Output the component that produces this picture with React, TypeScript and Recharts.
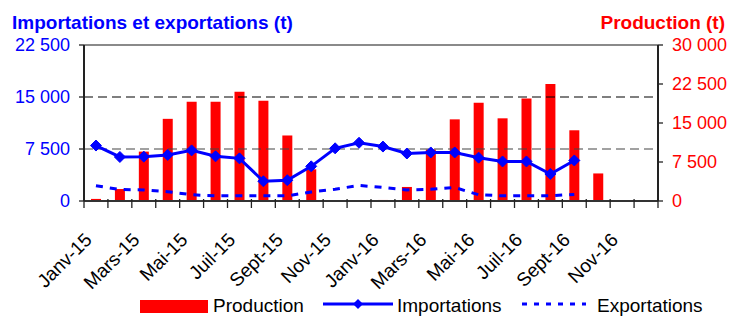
import React from 'react';
import { ComposedChart, Bar, Line, XAxis, YAxis, ReferenceLine, Legend } from 'recharts';

const months = [
  'Janv-15', 'Févr-15', 'Mars-15', 'Avr-15', 'Mai-15', 'Juin-15', 'Juil-15', 'Août-15',
  'Sept-15', 'Oct-15', 'Nov-15', 'Déc-15', 'Janv-16', 'Févr-16', 'Mars-16', 'Avr-16',
  'Mai-16', 'Juin-16', 'Juil-16', 'Août-16', 'Sept-16', 'Oct-16', 'Nov-16', 'Déc-16',
];
const production = [
  400, 2300, 9500, 15800, 19100, 19100, 21000, 19300, 12600, 6100, 100, 0,
  200, 2700, 9900, 15700, 18900, 15900, 19700, 22500, 13600, 5300, 100, 0,
];
const importations = [
  8000, 6350, 6400, 6650, 7300, 6450, 6150, 2850, 3000, 5000, 7600, 8400,
  7850, 6850, 7000, 7000, 6250, 5700, 5700, 3900, 5850, null, null, null,
];
const exportations = [
  2200, 1650, 1600, 1350, 900, 750, 750, 750, 750, 1300, 1700, 2250,
  1950, 1600, 1700, 1950, 900, 750, 750, 750, 950, null, null, null,
];
const leftTicks = [0, 7500, 15000, 22500];
const rightTicks = [0, 7500, 15000, 22500, 30000];

const data = months.map((m, i) => ({
  month: m,
  production: production[i],
  importations: importations[i],
  exportations: exportations[i],
}));

const W = 730;
const H = 316;
const LEFT_W = 84;
const RIGHT_W = 72;
const TOP = 45;
const XAXIS_H = 95;
const LEGEND_H = 20;
const HALF_BAND = (W - LEFT_W - RIGHT_W) / months.length / 2;

const FONT = '"Liberation Sans", Arial, Helvetica, sans-serif';
const BLUE = '#0000FF';
const RED = '#FF0000';

const fmt = (v: number) => String(v).replace(/\B(?=(\d{3})+(?!\d))/g, ' ');

const XTick = (props: any) => {
  const { x, y, payload, index } = props;
  const isLast = index === months.length - 1;
  const ax = x - 3;
  const ay = y + 40;
  return (
    <g>
      <line x1={x - HALF_BAND} x2={x - HALF_BAND} y1={y - 2} y2={y + 7} stroke="#222" strokeWidth={1.3} />
      {isLast && (
        <line x1={x + HALF_BAND} x2={x + HALF_BAND} y1={y - 2} y2={y + 7} stroke="#222" strokeWidth={1.3} />
      )}
      {index % 2 === 0 && (
        <text
          x={ax}
          y={ay}
          transform={`rotate(-45 ${ax} ${ay})`}
          textAnchor="end"
          fontSize={19}
          fontFamily={FONT}
          fill="#000"
        >
          {payload.value}
        </text>
      )}
    </g>
  );
};

const Diamond = (props: any) => {
  const { cx, cy, value } = props;
  if (cx == null || cy == null || value == null) return null;
  const r = 5.5;
  return (
    <polygon
      points={`${cx},${cy - r} ${cx + r},${cy} ${cx},${cy + r} ${cx - r},${cy}`}
      fill={BLUE}
      stroke={BLUE}
    />
  );
};

const LegendContent = () => (
  <svg width={W} height={LEGEND_H} style={{ display: 'block', overflow: 'visible' }}>
    <rect x={140} y={4} width={68} height={13} fill={RED} />
    <text x={213} y={16} fontSize={19} fontFamily={FONT} fill="#000">Production</text>
    <line x1={323} x2={393} y1={8} y2={8} stroke={BLUE} strokeWidth={3} />
    <polygon points="358,3 363,8 358,13 353,8" fill={BLUE} />
    <text x={397} y={16} fontSize={19} fontFamily={FONT} fill="#000">Importations</text>
    <line x1={522} x2={586} y1={8} y2={8} stroke={BLUE} strokeWidth={3} strokeDasharray="5 7" />
    <text x={597} y={16} fontSize={19} fontFamily={FONT} fill="#000">Exportations</text>
  </svg>
);

export default function App() {
  return (
    <div style={{ position: 'absolute', left: 0, top: 0, width: W, height: H, background: '#fff' }}>
      <ComposedChart
        width={W}
        height={H}
        data={data}
        margin={{ top: TOP, right: 0, bottom: 0, left: 0 }}
      >
        <XAxis
          dataKey="month"
          interval={0}
          height={XAXIS_H}
          tickSize={0}
          tickMargin={0}
          tickLine={false}
          axisLine={{ stroke: '#333', strokeWidth: 2 }}
          tick={(p: any) => <XTick {...p} />}
        />
        <YAxis
          yAxisId="left"
          orientation="left"
          width={LEFT_W}
          domain={[0, 22500]}
          ticks={leftTicks}
          interval={0}
          tickFormatter={fmt}
          tickSize={5}
          tickMargin={9}
          axisLine={{ stroke: '#222', strokeWidth: 2 }}
          tickLine={{ stroke: '#222', strokeWidth: 1.3 }}
          tick={{ fill: BLUE, fontSize: 18, fontFamily: FONT }}
        />
        <YAxis
          yAxisId="right"
          orientation="right"
          width={RIGHT_W}
          domain={[0, 30000]}
          ticks={rightTicks}
          interval={0}
          tickFormatter={fmt}
          tickSize={5}
          tickMargin={9}
          axisLine={{ stroke: '#222', strokeWidth: 2 }}
          tickLine={{ stroke: '#222', strokeWidth: 1.3 }}
          tick={{ fill: RED, fontSize: 18, fontFamily: FONT, textAnchor: 'start' }}
        />
        <ReferenceLine yAxisId="left" y={22500} stroke="#8a8a8a" strokeWidth={2} />
        <ReferenceLine yAxisId="left" y={15000} stroke="#000" strokeWidth={1.2} strokeDasharray="9 5" />
        <ReferenceLine yAxisId="left" y={7500} stroke="#444" strokeWidth={1.1} strokeDasharray="9 5" />
        <Bar
          yAxisId="right"
          dataKey="production"
          fill={RED}
          barSize={10}
          isAnimationActive={false}
        />
        <Line
          yAxisId="left"
          type="linear"
          dataKey="importations"
          stroke={BLUE}
          strokeWidth={3}
          dot={(p: any) => <Diamond key={`d-${p.index}`} {...p} />}
          activeDot={false}
          isAnimationActive={false}
        />
        <Line
          yAxisId="left"
          type="linear"
          dataKey="exportations"
          stroke={BLUE}
          strokeWidth={3}
          strokeDasharray="7 7"
          dot={false}
          activeDot={false}
          isAnimationActive={false}
        />
        <Legend
          verticalAlign="bottom"
          height={LEGEND_H}
          content={() => <LegendContent />}
          wrapperStyle={{ left: 0, top: H - LEGEND_H, bottom: 'auto', width: W, height: LEGEND_H }}
        />
      </ComposedChart>
      <svg
        width={W}
        height={40}
        style={{ position: 'absolute', left: 0, top: 0, pointerEvents: 'none' }}
      >
        <text x={12} y={29} fontSize={19} fontWeight="bold" fontFamily={FONT} fill={BLUE}>
          Importations et exportations (t)
        </text>
        <text x={725} y={29} fontSize={19} fontWeight="bold" fontFamily={FONT} fill={RED} textAnchor="end">
          Production (t)
        </text>
      </svg>
    </div>
  );
}
